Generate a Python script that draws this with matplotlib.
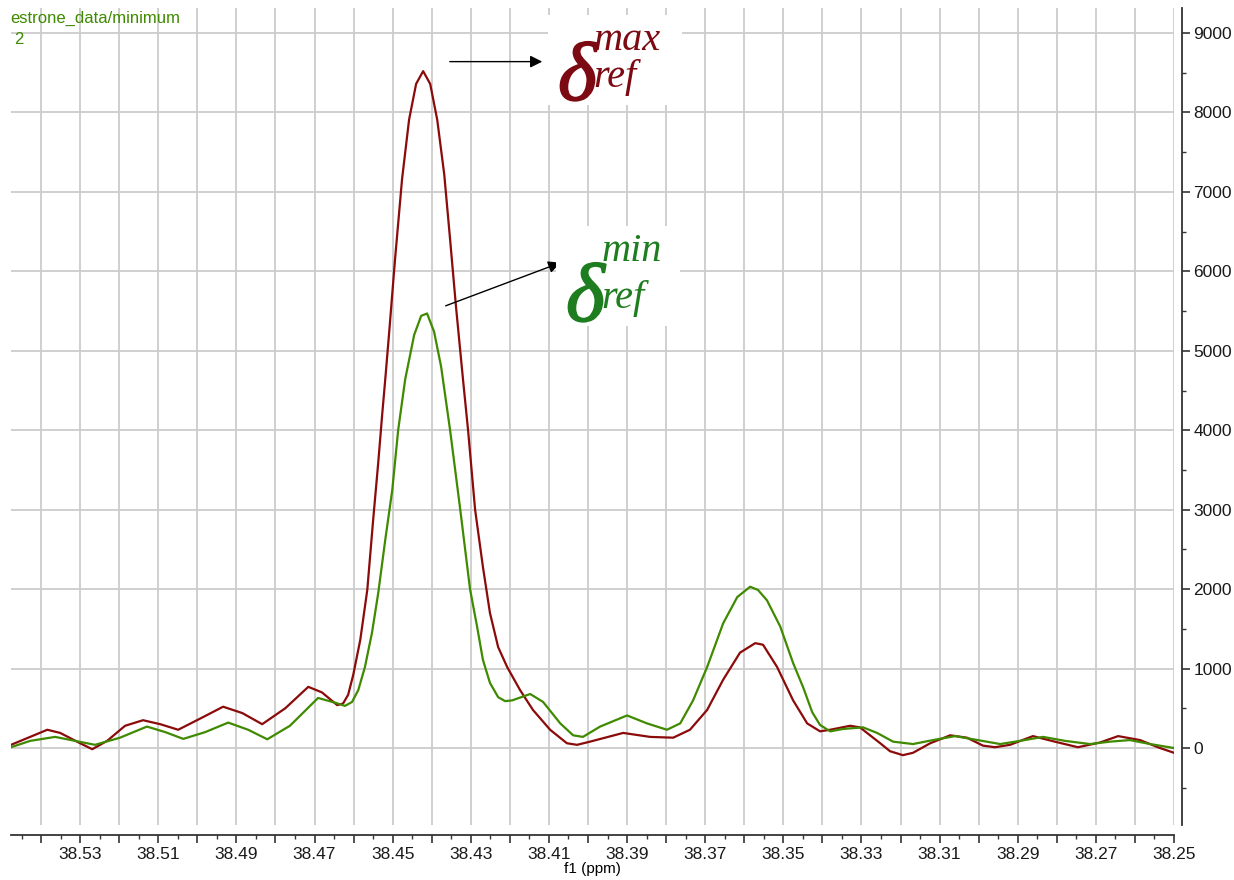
import matplotlib
matplotlib.use("Agg")
import matplotlib.pyplot as plt
import matplotlib.patheffects as pe
from matplotlib.patches import Rectangle
from matplotlib.ticker import MultipleLocator, FuncFormatter

# spectrum at the maximum setting (dark red)
ppm_max = [38.5477, 38.5384, 38.5351, 38.5300, 38.5269, 38.5231, 38.5185, 38.5139,
           38.5095, 38.5049, 38.4993, 38.4934, 38.4885, 38.4834, 38.4775, 38.4716,
           38.4681, 38.4642, 38.4627, 38.4614, 38.4601, 38.4583, 38.4565, 38.4550,
           38.4537, 38.4527, 38.4519, 38.4509, 38.4494, 38.4476, 38.4458, 38.4440,
           38.4422, 38.4404, 38.4386, 38.4368, 38.4353, 38.4338, 38.4320, 38.4307,
           38.4289, 38.4269, 38.4251, 38.4230, 38.4207, 38.4174, 38.4141, 38.4097,
           38.4054, 38.4028, 38.3995, 38.3910, 38.3841, 38.3782, 38.3739, 38.3695,
           38.3654, 38.3611, 38.3572, 38.3552, 38.3516, 38.3475, 38.3439, 38.3406,
           38.3380, 38.3329, 38.3304, 38.3252, 38.3227, 38.3194, 38.3168, 38.3124,
           38.3073, 38.3030, 38.2989, 38.2958, 38.2920, 38.2861, 38.2805, 38.2746,
           38.2689, 38.2643, 38.2587, 38.2536, 38.2500]
int_max = [40, 230, 190, 60, -15, 90, 280, 350,
           300, 230, 370, 520, 440, 300, 500, 770,
           700, 540, 560, 670, 920, 1360, 1990, 2870,
           3590, 4190, 4640, 5230, 6150, 7160, 7910, 8360,
           8520, 8360, 7910, 7220, 6400, 5560, 4640, 4000,
           3000, 2280, 1700, 1270, 1020, 730, 480, 230,
           60, 40, 80, 190, 140, 130, 230, 480,
           860, 1200, 1320, 1300, 1020, 600, 310, 210,
           230, 280, 260, 60, -40, -90, -60, 60,
           160, 130, 30, 10, 40, 150, 80, 10,
           70, 150, 100, 0, -60]

# spectrum at the minimum setting (green)
ppm_min = [38.5477, 38.5428, 38.5364, 38.5313, 38.5262, 38.5198, 38.5129, 38.5082,
           38.5036, 38.4980, 38.4921, 38.4870, 38.4821, 38.4763, 38.4691, 38.4647,
           38.4622, 38.4604, 38.4588, 38.4571, 38.4553, 38.4537, 38.4519, 38.4501,
           38.4486, 38.4468, 38.4445, 38.4427, 38.4412, 38.4394, 38.4376, 38.4353,
           38.4327, 38.4302, 38.4284, 38.4269, 38.4251, 38.4230, 38.4212, 38.4194,
           38.4148, 38.4115, 38.4071, 38.4038, 38.4013, 38.3969, 38.3900, 38.3849,
           38.3798, 38.3764, 38.3731, 38.3695, 38.3654, 38.3618, 38.3585, 38.3565,
           38.3542, 38.3508, 38.3475, 38.3449, 38.3426, 38.3406, 38.3380, 38.3347,
           38.3296, 38.3260, 38.3219, 38.3168, 38.3117, 38.3060, 38.3014, 38.2945,
           38.2894, 38.2835, 38.2779, 38.2715, 38.2664, 38.2613, 38.2561, 38.2500]
int_min = [10, 90, 140, 90, 40, 130, 270, 200,
           115, 200, 320, 230, 110, 280, 630, 570,
           530, 580, 730, 1020, 1450, 1950, 2620, 3250,
           4000, 4640, 5200, 5440, 5470, 5240, 4800, 4000,
           3000, 2000, 1530, 1110, 820, 640, 590, 600,
           680, 580, 310, 160, 140, 270, 410, 310,
           230, 310, 600, 1020, 1570, 1900, 2030, 1990,
           1860, 1530, 1070, 760, 450, 290, 210, 240,
           260, 190, 80, 50, 100, 150, 110, 50,
           90, 140, 90, 50, 80, 100, 50, 0]

red = "#8b0a0a"
green = "#3f8a00"
W, H = 1234, 880

plt.rcParams["font.family"] = ["Liberation Sans", "DejaVu Sans"]

fig = plt.figure(figsize=(W / 100, H / 100), dpi=100)
ax = fig.add_axes([11 / W, 55 / H, 1163 / W, 817 / H])

ax.plot(ppm_max, int_max, color=red, lw=1.6, zorder=3)
ax.plot(ppm_min, int_min, color=green, lw=1.6, zorder=3)

ax.set_xlim(38.5477, 38.25)
ax.set_ylim(-969, 9315)

ax.xaxis.set_major_locator(MultipleLocator(0.01))
ax.xaxis.set_minor_locator(MultipleLocator(0.005))
ax.xaxis.set_major_formatter(FuncFormatter(
    lambda v, p: f"{v:.2f}" if round(v * 100) % 2 == 1 else ""))
ax.yaxis.set_major_locator(MultipleLocator(1000))
ax.yaxis.set_minor_locator(MultipleLocator(500))

ax.grid(True, which="major", color="#cccccc", lw=1.3)
ax.set_axisbelow(True)

for s in ["left", "top"]:
    ax.spines[s].set_visible(False)
ax.spines["right"].set_position(("outward", 6))
ax.spines["bottom"].set_position(("outward", 7))
for s in ["right", "bottom"]:
    ax.spines[s].set_color("#333333")
    ax.spines[s].set_linewidth(1.3)

ax.yaxis.tick_right()
ax.tick_params(axis="both", which="major", direction="out", length=6,
               width=1.2, color="#333333", labelsize=12.5, labelcolor="#1a1a1a")
ax.tick_params(axis="both", which="minor", direction="out", length=3,
               width=1.0, color="#333333")
ax.tick_params(axis="y", pad=2)
ax.tick_params(axis="x", pad=3)

ax.set_xlabel("f1 (ppm)", fontsize=11, labelpad=0)

fig.text(10 / W, 1 - 18 / H, "estrone_data/minimum", color=green,
         fontsize=12, va="center", ha="left")
fig.text(14 / W, 1 - 40 / H, "2", color=green, fontsize=12, va="center", ha="left")

# arrows pointing at the labels
ax.annotate("", xy=(38.4110, 8640), xytext=(38.4361, 8640),
            arrowprops=dict(arrowstyle="-|>", color="black", lw=1.0,
                            mutation_scale=18))
ax.annotate("", xy=(38.4064, 6121), xytext=(38.4371, 5554),
            arrowprops=dict(arrowstyle="-|>", color="black", lw=1.0,
                            mutation_scale=18))

serif = ["Liberation Serif", "DejaVu Serif"]


def delta_label(x0, y0, x1, y1, sup, color):
    # white box, then delta with sup/sub scripts, placed in pixels
    fig.patches.append(Rectangle((x0 / W, 1 - y1 / H), (x1 - x0) / W, (y1 - y0) / H,
                                 transform=fig.transFigure, facecolor="white",
                                 edgecolor="none", zorder=4))
    fig.text((x0 + 10) / W, 1 - (y1 - 5) / H, "\u03b4", color=color,
             family=serif, style="italic", fontsize=60, ha="left",
             va="baseline", zorder=5,
             path_effects=[pe.withStroke(linewidth=1.2, foreground=color)])
    fig.text((x0 + 46) / W, 1 - (y0 + 35) / H, sup, color=color,
             family=serif, style="italic", fontsize=29, ha="left",
             va="baseline", zorder=5)
    fig.text((x0 + 45) / W, 1 - (y1 - 18) / H, "ref", color=color,
             family=serif, style="italic", fontsize=29, ha="left",
             va="baseline", zorder=5)


delta_label(548, 15, 682, 105, "max", "#7c0a12")
delta_label(556, 226, 680, 326, "min", "#1e7d1e")

fig.savefig("out.png", dpi=100)
